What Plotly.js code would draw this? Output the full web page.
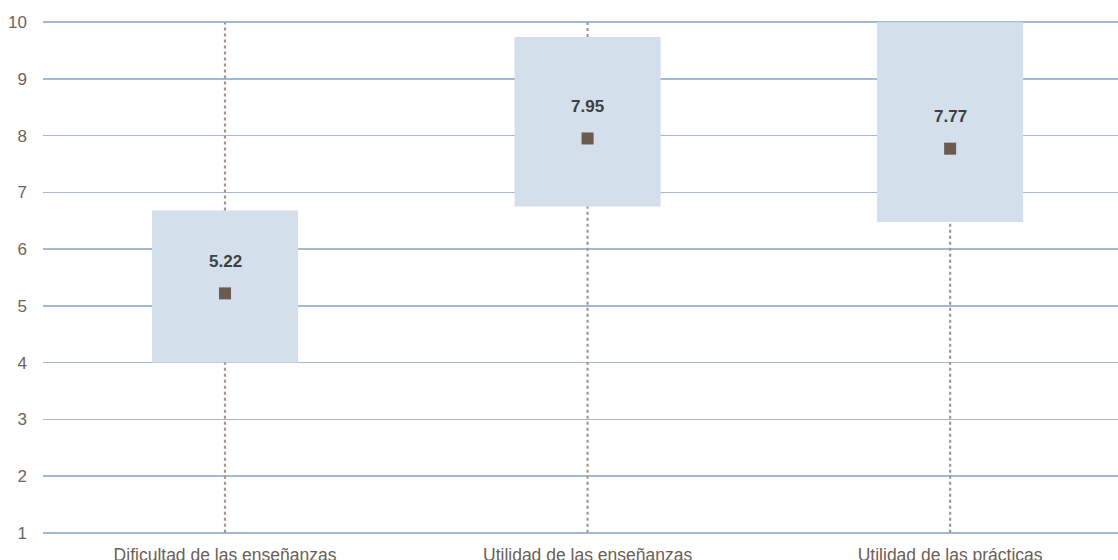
<!DOCTYPE html>
<html>
<head>
<meta charset="utf-8">
<script src="https://cdn.plot.ly/plotly-3.0.1.min.js"></script>
<style>html,body{margin:0;padding:0;background:#fff;}#chart{width:1118px;height:560px;}</style>
</head>
<body>
<div id="chart"></div>
<script>
const categories = ["Dificultad de las enseñanzas", "Utilidad de las enseñanzas", "Utilidad de las prácticas"];
const minValues = [1, 1, 1];
const q1Values = [4.0, 6.75, 6.48];
const q3Values = [6.68, 9.74, 10];
const maxValues = [10, 10, 10];
const meanValues = [5.22, 7.95, 7.77];
const meanLabels = ["5.22", "7.95", "7.77"];
const yTicks = [1, 2, 3, 4, 5, 6, 7, 8, 9, 10];

const whiskerX = [], whiskerY = [];
categories.forEach((c, i) => {
  whiskerX.push(c, c, null, c, c, null);
  whiskerY.push(minValues[i], q1Values[i], null, q3Values[i], maxValues[i], null);
});

const data = [
  {
    type: 'bar',
    x: categories,
    y: q3Values.map((v, i) => v - q1Values[i]),
    base: q1Values,
    width: 0.403,
    marker: {color: '#d3dfeb', line: {width: 0}},
    hoverinfo: 'skip'
  },
  {
    type: 'scatter',
    mode: 'lines',
    x: whiskerX,
    y: whiskerY,
    line: {color: '#a8958a', width: 2.2, dash: 'dot'},
    connectgaps: false,
    hoverinfo: 'skip'
  },
  {
    type: 'scatter',
    mode: 'markers',
    x: categories,
    y: meanValues,
    marker: {symbol: 'square', size: 12, color: '#6b5a4e'},
    hoverinfo: 'skip'
  }
];

const annotations = categories.map((c, i) => ({
  x: c, y: meanValues[i], text: meanLabels[i], showarrow: false,
  yshift: 32, font: {family: 'Liberation Sans, Arial, sans-serif', size: 17, color: '#404040', weight: 'bold'}
}));

const layout = {
  width: 1118, height: 560,
  margin: {l: 43, r: 0, t: 21, b: 26},
  paper_bgcolor: '#ffffff', plot_bgcolor: '#ffffff',
  showlegend: false,
  font: {family: 'Liberation Sans, Arial, sans-serif', size: 14, color: '#6f645d'},
  xaxis: {
    type: 'category',
    range: [-0.502, 2.463],
    showgrid: false, zeroline: false, showline: false,
    ticks: '', fixedrange: true,
    ticklabelstandoff: 8,
    tickfont: {size: 17.5, color: '#6b6058'}
  },
  yaxis: {
    range: [0.98, 10.02],
    tickvals: yTicks,
    ticktext: yTicks.map(String),
    showgrid: true, gridcolor: '#a2bad5', gridwidth: 1.5,
    zeroline: false, showline: false, ticks: '',
    ticklabelstandoff: 15,
    tickfont: {size: 17, color: '#6f645d'}
  },
  annotations: annotations
};

Plotly.newPlot('chart', data, layout, {displayModeBar: false, staticPlot: true});
</script>
</body>
</html>
